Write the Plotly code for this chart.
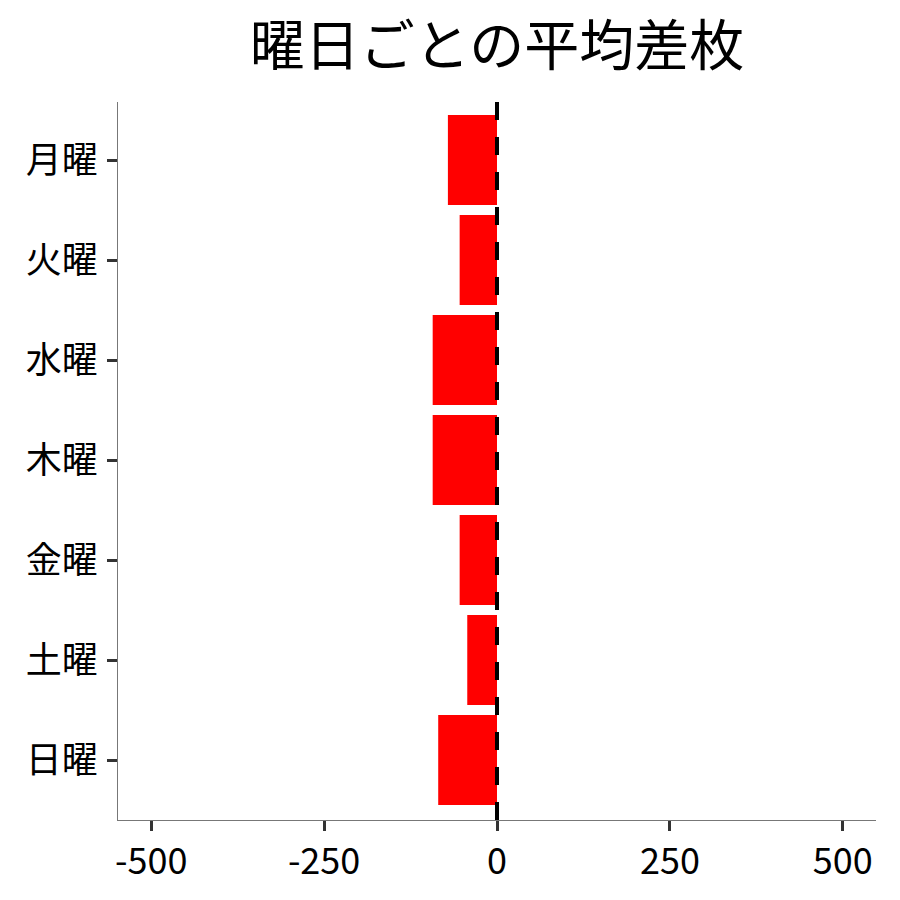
import plotly.graph_objects as go

# 曜日ごとの平均差枚
days = ["月曜", "火曜", "水曜", "木曜", "金曜", "土曜", "日曜"]
avg_diff = [-71, -54, -93, -93, -54, -43, -85]
x_ticks = [-500, -250, 0, 250, 500]

FONT = "Noto Sans CJK JP"

fig = go.Figure()

fig.add_trace(go.Bar(
    x=avg_diff,
    y=days,
    orientation="h",
    marker=dict(color="#ff0000", line=dict(width=0)),
    width=0.9,
    showlegend=False,
))

# ゼロの基準線
fig.add_shape(
    type="line", xref="x", yref="paper",
    x0=0, x1=0, y0=0, y1=1,
    line=dict(color="black", width=4, dash="18px,17px"),
    layer="above",
)

fig.update_layout(
    width=900, height=900,
    paper_bgcolor="white",
    plot_bgcolor="white",
    font=dict(family=FONT, color="black"),
    title=dict(
        text="曜日ごとの平均差枚",
        x=0.5, xref="paper", xanchor="center",
        y=0.958, yanchor="middle",
        font=dict(size=55, family=FONT, color="black"),
    ),
    margin=dict(l=110, r=32, t=94, b=88),
    bargap=0.1,
)

fig.update_xaxes(
    range=[-548, 548],
    tickvals=x_ticks,
    ticktext=[str(v) for v in x_ticks],
    showgrid=False,
    zeroline=False,
    showline=True, linecolor="#777777", linewidth=1.2,
    ticks="outside", ticklen=10, tickwidth=3, tickcolor="#333333",
    tickfont=dict(size=36, family=FONT, color="black"),
)

fig.update_yaxes(
    categoryorder="array",
    categoryarray=days,
    range=[6.6, -0.58],
    showgrid=False,
    zeroline=False,
    showline=True, linecolor="#777777", linewidth=1.2,
    ticks="outside", ticklen=10, tickwidth=3, tickcolor="#333333",
    tickfont=dict(size=36, family=FONT, color="black"),
    ticklabelstandoff=2,
)

fig.write_html("out.html")
